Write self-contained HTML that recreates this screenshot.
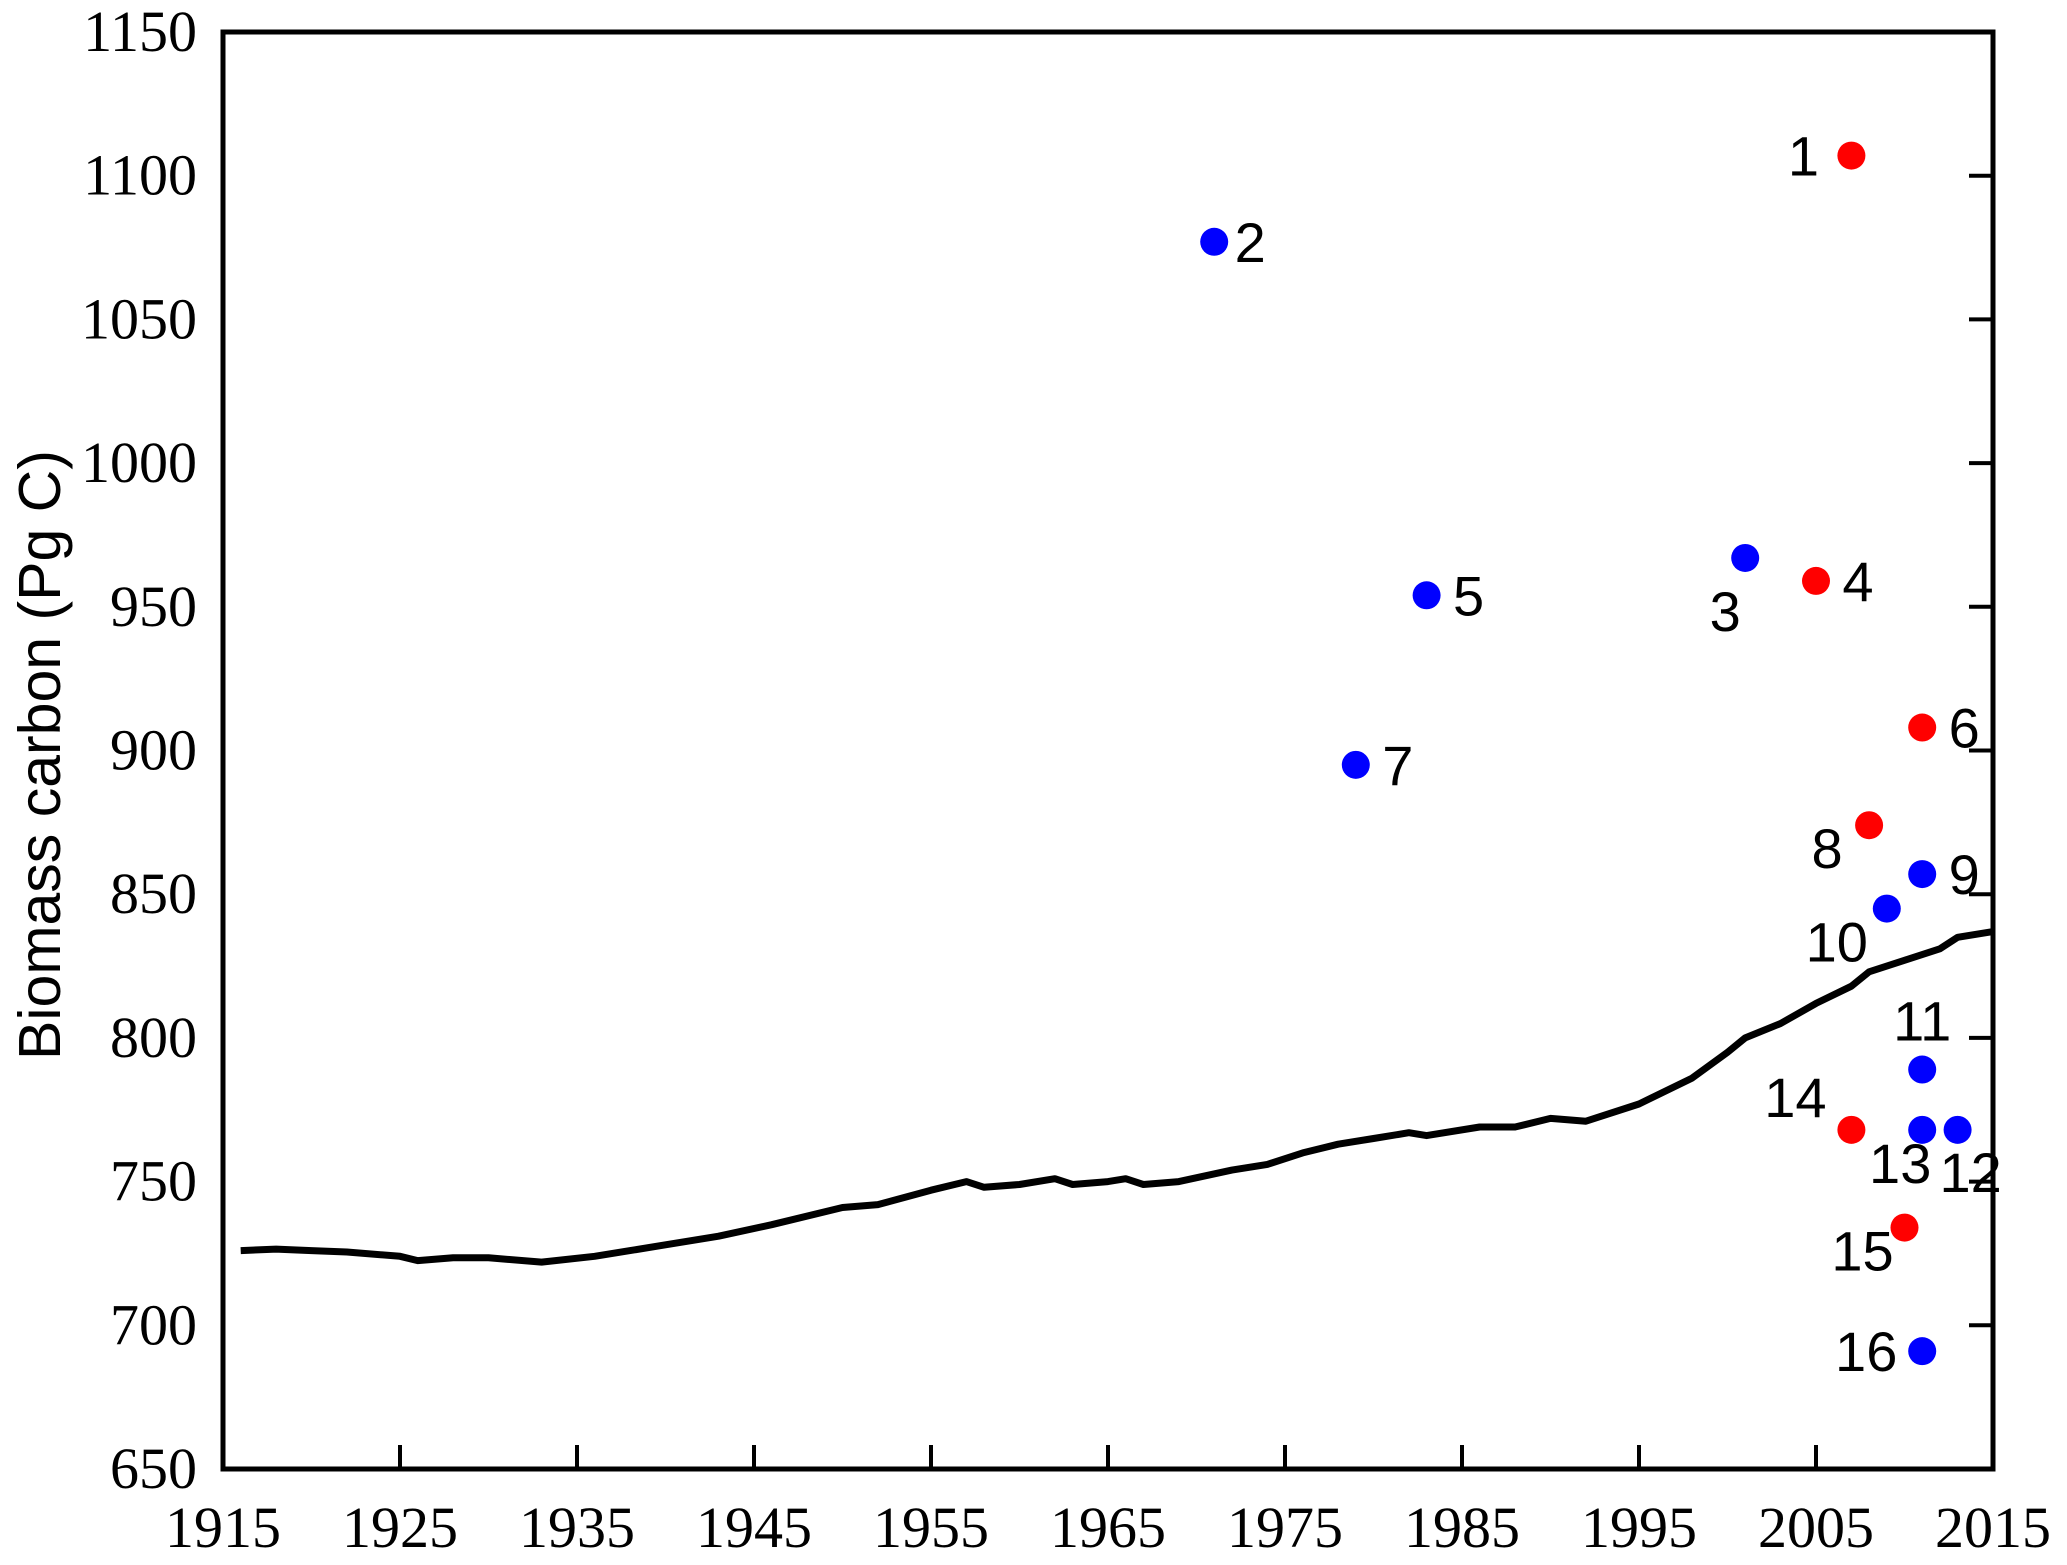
<!DOCTYPE html>
<html><head><meta charset="utf-8"><style>body{margin:0;background:#fff}svg{display:block}</style></head>
<body>
<svg id="chart" width="2067" height="1565" xmlns="http://www.w3.org/2000/svg"></svg>
<script>
const lineYears=[1916,1918,1920,1922,1925,1926,1928,1930,1933,1936,1938,1940,1943,1946,1950,1952,1955,1957,1958,1960,1962,1963,1965,1966,1967,1969,1972,1974,1976,1978,1980,1982,1983,1986,1988,1990,1992,1995,1998,2000,2001,2003,2005,2007,2008,2010,2012,2013,2015];
const lineValues=[726,726.5,726,725.5,724,722.5,723.5,723.5,722,724,726,728,731,735,741,742,747,750,748,749,751,749,750,751,749,750,754,756,760,763,765,767,766,769,769,772,771,777,786,795,800,805,812,818,823,827,831,835,837];
const ptLabels=["1","2","3","4","5","6","7","8","9","10","11","12","13","14","15","16"];
const ptYears=[2007,1971,2001,2005,1983,2011,1979,2008,2011,2009,2011,2013,2011,2007,2010,2011];
const ptValues=[1107,1077,967,959,954,908,895,874,857,845,789,768,768,768,734,691];
const ptColors=["red","blue","blue","red","blue","red","blue","red","blue","blue","blue","blue","blue","red","red","blue"];
const xTicks=[1915,1925,1935,1945,1955,1965,1975,1985,1995,2005,2015];
const yTicks=[650,700,750,800,850,900,950,1000,1050,1100,1150];
const L=223,R=1993,T=32,B=1469;
const X=v=>L+(v-1915)/100*(R-L);
const Y=v=>B-(v-650)/500*(B-T);
const NS="http://www.w3.org/2000/svg";
const svg=document.getElementById('chart');
function mk(t,a){const e=document.createElementNS(NS,t);for(const k in a)e.setAttribute(k,a[k]);svg.appendChild(e);return e;}
const offs=[[-48,0],[36,0],[-20,53],[42,0],[42,0],[42,0],[42,0],[-42,23],[42,0],[-50,33],[0,-49],[13,42],[-22,33],[-56,-33],[-42,23],[-56,0]];
let d='';
lineYears.forEach((yr,i)=>{d+=(i?'L':'M')+X(yr).toFixed(1)+','+Y(lineValues[i]).toFixed(1);});
const ln=mk('path',{d:d,fill:'none',stroke:'#000','stroke-width':7,'stroke-linejoin':'round'});


ptYears.forEach((yr,i)=>{
 const cx=X(yr),cy=Y(ptValues[i]);
 const c=mk('circle',{cx:cx,cy:cy,r:14,fill:ptColors[i]});
 
 
 const t=mk('text',{x:cx+offs[i][0],y:cy+offs[i][1]+20,'text-anchor':'middle','font-family':'Liberation Sans, sans-serif','font-size':56,fill:'#000'});
 t.textContent=ptLabels[i];
 
 
});
xTicks.forEach(v=>{
 const tk=mk('line',{x1:X(v),x2:X(v),y1:B,y2:B-24,stroke:'#000','stroke-width':4});
 
 
 const t=mk('text',{x:X(v),y:1547,'text-anchor':'middle','font-family':'Liberation Serif, serif','font-size':58,fill:'#000'});
 t.textContent=v;
 
 
});
yTicks.forEach(v=>{
 const tk=mk('line',{x1:R,x2:R-24,y1:Y(v),y2:Y(v),stroke:'#000','stroke-width':4});
 
 
 const t=mk('text',{x:197,y:Y(v)+19,'text-anchor':'end','font-family':'Liberation Serif, serif','font-size':58,fill:'#000'});
 t.textContent=v;
 
 
});
const fr=mk('rect',{x:L,y:T,width:R-L,height:B-T,fill:'none',stroke:'#000','stroke-width':5});


const yl=mk('text',{x:0,y:0,transform:'translate(60,755) rotate(-90)','text-anchor':'middle','font-family':'Liberation Sans, sans-serif','font-size':59,fill:'#000'});
yl.textContent='Biomass carbon (Pg C)';


</script>
</body></html>
